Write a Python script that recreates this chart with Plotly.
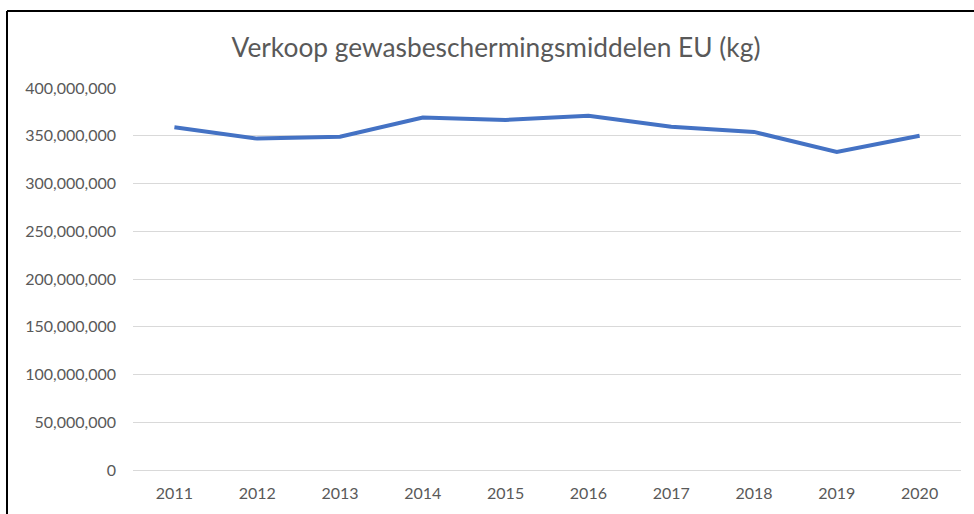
import plotly.graph_objects as go

years = ["2011", "2012", "2013", "2014", "2015", "2016", "2017", "2018", "2019", "2020"]
sales_kg = [359e6, 347e6, 349e6, 369e6, 366.5e6, 371e6, 359.5e6, 354e6, 333e6, 350e6]
y_ticks = [0, 50e6, 100e6, 150e6, 200e6, 250e6, 300e6, 350e6, 400e6]
y_tick_labels = ["0", "50,000,000", "100,000,000", "150,000,000", "200,000,000",
                 "250,000,000", "300,000,000", "350,000,000", "400,000,000"]
title = "Verkoop gewasbeschermingsmiddelen EU (kg)"

W, H = 974, 514
L, R, T, B = 133, 13, 88, 44
pw, ph = W - L - R, H - T - B

fig = go.Figure()
fig.add_trace(go.Scatter(x=years, y=sales_kg, mode="lines",
                         line=dict(color="#4472C4", width=4)))

def px_x(p):
    return (p - L) / pw

def px_y(p):
    return (H - B - p) / ph

fig.update_layout(
    width=W, height=H,
    margin=dict(l=L, r=R, t=T, b=B),
    paper_bgcolor="white", plot_bgcolor="white",
    showlegend=False,
    font=dict(family="Lato, Open Sans, sans-serif", color="#595959", size=16),
    title=dict(text=title, x=496 / W, xanchor="center", y=1 - 48 / H, yanchor="middle",
               font=dict(size=26.3, color="#595959", family="Lato, Open Sans, sans-serif")),
    xaxis=dict(type="category", showgrid=False, showline=False, zeroline=False,
               ticks="", range=[-0.5, 9.5], ticklabelstandoff=12),
    yaxis=dict(range=[0, 400e6], tickvals=y_ticks, ticktext=y_tick_labels,
               showgrid=True, gridcolor="#D9D9D9", gridwidth=1,
               zeroline=True, zerolinecolor="#D9D9D9", zerolinewidth=1,
               showline=False, ticks="", ticklabelstandoff=16),
    shapes=[
        dict(type="line", xref="paper", yref="paper",
             x0=px_x(7), x1=px_x(7), y0=px_y(11), y1=px_y(H + 5),
             line=dict(color="black", width=2)),
        dict(type="line", xref="paper", yref="paper",
             x0=px_x(7), x1=px_x(W + 5), y0=px_y(11), y1=px_y(11),
             line=dict(color="black", width=2)),
    ],
)

fig.write_html("out.html", config={"displayModeBar": False},
               post_script="document.body.style.margin='0';document.body.style.overflow='hidden';")
